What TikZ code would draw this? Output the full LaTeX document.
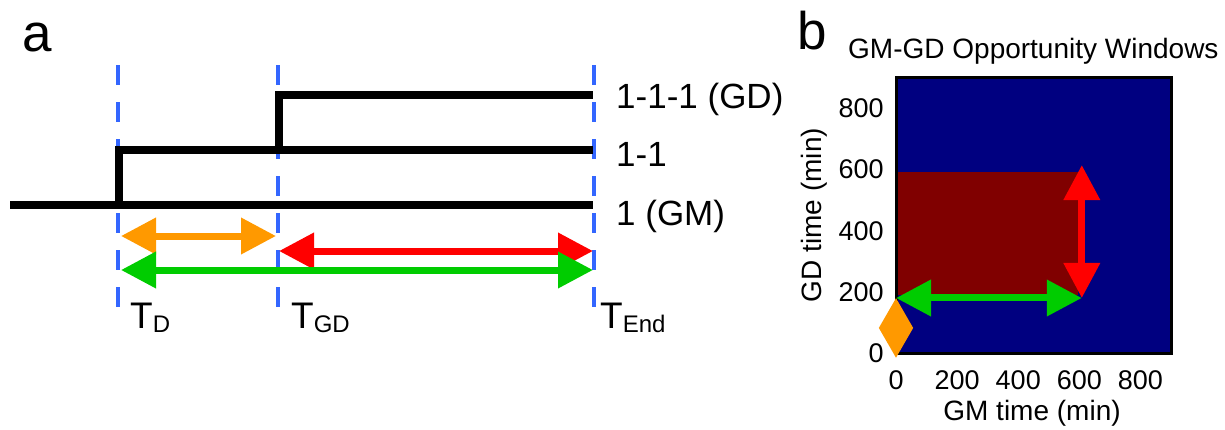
\documentclass[tikz,border=0pt]{standalone}
\usepackage{fontspec}
\setmainfont{Liberation Sans}
\usetikzlibrary{arrows.meta,positioning}
\definecolor{markblue}{RGB}{51,102,255}
\definecolor{winorange}{RGB}{255,153,0}
\definecolor{wingreen}{RGB}{0,204,0}
\definecolor{winred}{RGB}{255,0,0}
\definecolor{winnavy}{RGB}{0,0,128}
\definecolor{winmaroon}{RGB}{128,0,0}

\begin{document}
\begin{tikzpicture}[
    x=1pt, y=-1pt,
    marker/.style={draw=markblue, line width=4pt, dash pattern=on 20pt off 17pt},
    level/.style={draw=black, line width=7.5pt, line join=miter},
    span/.style={line width=7pt, {Triangle[length=35pt,width=35pt]}-{Triangle[length=35pt,width=35pt]}},
    panel/.style={font=\fontsize{53}{56}\selectfont, anchor=base west, inner sep=0pt},
    state/.style={font=\fontsize{35}{38}\selectfont, anchor=base west, inner sep=0pt},
    tlab/.style={font=\fontsize{37}{40}\selectfont, anchor=base west, inner sep=0pt},
    tick/.style={font=\fontsize{27}{30}\selectfont, inner sep=0pt},
    axlab/.style={font=\fontsize{28}{30}\selectfont, inner sep=0pt}
]
\useasboundingbox (0,0) rectangle (1225,429);

% Panel a
\node[panel] (pa) at (22,51) {a};

% Time markers
\coordinate (tdTop) at (118,65);     \coordinate (tdBot) at (118,308);
\coordinate (tgdTop) at (278,65);    \coordinate (tgdBot) at (278,308);
\coordinate (tendTop) at (594,65);   \coordinate (tendBot) at (594,308);
\draw[marker] (tdTop) -- (tdBot);
\draw[marker] (tgdTop) -- (tgdBot);
\draw[marker] (tendTop) -- (tendBot);

% Levels
\draw[level] (10,205) -- (593,205);
\draw[level] (119,205) |- (593,150);
\draw[level] (279,150) |- (593,95);

\node[state] (gd) at (616,108) {1-1-1 (GD)};
\node[state] (mid) at (616,166) {1-1};
\node[state] (gm) at (616,225) {1 (GM)};

% Windows
\coordinate (oL) at (121,236);  \coordinate (oR) at (276,236);
\coordinate (rL) at (279,251);  \coordinate (rR) at (593,251);
\coordinate (gL) at (121,270);  \coordinate (gR) at (593,270);
\draw[span, winorange] (oL) -- (oR);
\draw[span, winred] (rL) -- (rR);
\draw[span, wingreen] (gL) -- (gR);

% Time labels
\node[tlab] (td) at (130,328) {T\raisebox{-4pt}{\fontsize{24}{24}\selectfont D}};
\node[tlab] (tgd) at (291,328) {T\raisebox{-4pt}{\fontsize{24}{24}\selectfont GD}};
\node[tlab] (tend) at (600,328) {T\raisebox{-4pt}{\fontsize{24}{24}\selectfont End}};

% Panel b
\node[panel] (pb) at (797,49) {b};
\node[axlab, anchor=base west] (title) at (848,58) {GM-GD Opportunity Windows};

\begin{scope}[shift={(896,353)}, x=0.3056pt, y=0.3056pt]
  \fill[winnavy] (0,0) rectangle (900,900);
  \fill[winmaroon] (0,190) rectangle (595,592);
  \draw[line width=3pt] (0,0) rectangle (900,900);

  % Ticks
  \foreach \v in {200,400,600,800}
    \node[tick, anchor=north] (x\v) at (\v,-56) {\v};
  \node[tick, anchor=north] (x0) at (0,-56) {0};
  \foreach \v in {0,200,400,600,800}
    \node[tick, anchor=east] (y\v) at (-40,\v) {\v};

  % Arrows
  \coordinate (wStart) at (0,180);
  \coordinate (wEnd) at (608,180);
  \coordinate (wTop) at (608,615);
  \coordinate (wLow) at (0,-16);
  \draw[span, wingreen] (wStart) -- (wEnd);
  \draw[span, winred] (wEnd) -- (wTop);
  \draw[line width=5pt, winorange, {Triangle[length=30pt,width=33pt]}-{Triangle[length=30pt,width=33pt]}] (wLow) -- (wStart);
\end{scope}

\node[axlab, anchor=base] (xlab) at (1032,420) {GM time (min)};
\node[axlab, rotate=90] (ylab) at (814,215) {GD time (min)};

\end{tikzpicture}
\end{document}
